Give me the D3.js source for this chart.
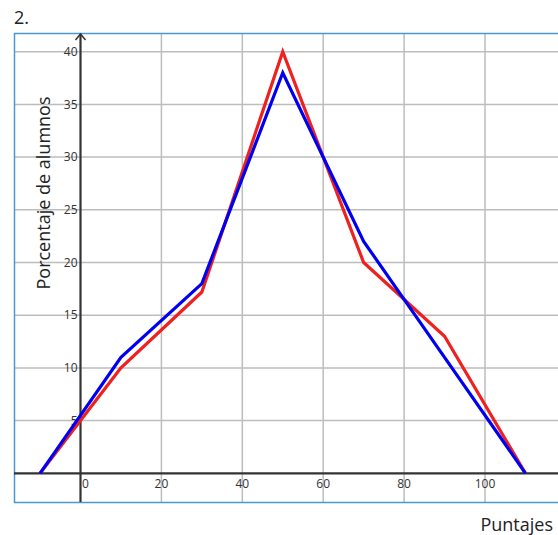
<!DOCTYPE html>
<html>
<head>
<meta charset="utf-8">
<script src="https://cdn.jsdelivr.net/npm/d3@7"></script>
<style>
html,body{margin:0;padding:0;background:#fff;}
svg{display:block;font-family:"Open Sans",sans-serif;}
</style>
</head>
<body>
<svg id="chart" width="558" height="535"></svg>
<script>
const redX = [-10, 10, 30, 50, 70, 90, 110];
const redY = [0, 10, 17.2, 40, 20, 13, 0];
const blueX = [-10, 10, 30, 50, 70, 90, 110];
const blueY = [0, 11, 18, 38, 22, 11, 0];
const xTicks = [0, 20, 40, 60, 80, 100];
const yTicks = [5, 10, 15, 20, 25, 30, 35, 40];
const title = "2.";
const xTitle = "Puntajes";
const yTitle = "Porcentaje de alumnos";

const svg = d3.select("#chart");
const frame = {left: 14, top: 33, bottom: 502, right: 560};
const x = d3.scaleLinear().domain([0, 100]).range([80.5, 485]);
const y = d3.scaleLinear().domain([0, 40]).range([473.3, 51.7]);

// grid
svg.append("g").selectAll("line").data(yTicks).join("line")
  .attr("x1", frame.left).attr("x2", frame.right)
  .attr("y1", d => y(d)).attr("y2", d => y(d))
  .attr("stroke", "#bdbdbd").attr("stroke-width", 1.5);
svg.append("g").selectAll("line").data(xTicks.filter(d => d !== 0)).join("line")
  .attr("x1", d => x(d)).attr("x2", d => x(d))
  .attr("y1", frame.top).attr("y2", frame.bottom)
  .attr("stroke", "#bdbdbd").attr("stroke-width", 1.5);

// frame
svg.append("rect").attr("x", frame.left + 0.5).attr("y", frame.top + 0.5)
  .attr("width", frame.right - frame.left).attr("height", frame.bottom - frame.top)
  .attr("fill", "none").attr("stroke", "#4a98d6").attr("stroke-width", 1.5);

// axes
svg.append("line").attr("x1", frame.left).attr("x2", frame.right)
  .attr("y1", y(0)).attr("y2", y(0)).attr("stroke", "#333").attr("stroke-width", 2.2);
svg.append("line").attr("x1", x(0)).attr("x2", x(0))
  .attr("y1", frame.bottom).attr("y2", frame.top + 1).attr("stroke", "#333").attr("stroke-width", 2.2);
svg.append("path")
  .attr("d", `M${x(0)-5},${frame.top+7} L${x(0)},${frame.top+1} L${x(0)+5},${frame.top+7}`)
  .attr("fill", "none").attr("stroke", "#333").attr("stroke-width", 1.5);

// tick labels
svg.append("g").selectAll("text").data(yTicks).join("text")
  .attr("x", x(0) - 3).attr("y", d => y(d)).attr("dy", "0.35em")
  .attr("text-anchor", "end").attr("font-size", 12).attr("fill", "#333")
  .text(d => d);
svg.append("g").selectAll("text").data(xTicks).join("text")
  .attr("x", d => d === 0 ? x(d) + 5 : x(d)).attr("y", y(0) + 10).attr("dy", "0.35em")
  .attr("text-anchor", "middle").attr("font-size", 12).attr("fill", "#333")
  .text(d => d);

// lines
const line = d3.line().x(d => x(d[0])).y(d => y(d[1]));
svg.append("path").datum(redX.map((v, i) => [v, redY[i]]))
  .attr("d", line).attr("fill", "none").attr("stroke", "#ee2020")
  .attr("stroke-width", 3.2).attr("stroke-linejoin", "miter");
svg.append("path").datum(blueX.map((v, i) => [v, blueY[i]]))
  .attr("d", line).attr("fill", "none").attr("stroke", "#0000f0")
  .attr("stroke-width", 3.2).attr("stroke-linejoin", "miter");

// titles
svg.append("text").attr("x", 14).attr("y", 24).attr("font-size", 18).attr("fill", "#222").text(title);
svg.append("text").attr("x", 553).attr("y", 531).attr("text-anchor", "end")
  .attr("font-size", 18).attr("fill", "#222").text(xTitle);
svg.append("text").attr("transform", "translate(50,193) rotate(-90)")
  .attr("text-anchor", "middle").attr("font-size", 18).attr("fill", "#222").text(yTitle);
</script>
</body>
</html>
